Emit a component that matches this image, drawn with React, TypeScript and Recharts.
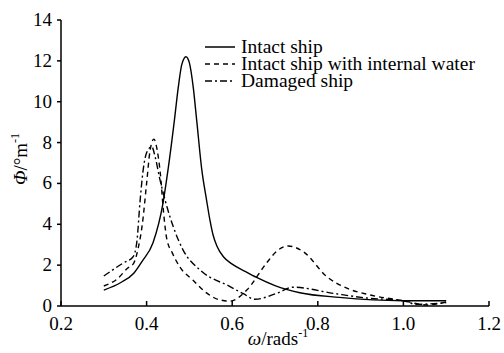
import { LineChart, Line, XAxis, YAxis } from "recharts"

// Intact ship
const intactW = [0.3, 0.34, 0.37, 0.39, 0.415, 0.438, 0.45, 0.465, 0.474, 0.482, 0.492, 0.5, 0.509, 0.517, 0.529, 0.54, 0.548, 0.555, 0.565, 0.58, 0.6, 0.63, 0.657, 0.7, 0.758, 0.85, 1.0, 1.1]
const intactPhi = [0.78, 1.15, 1.6, 2.2, 3.1, 5.0, 6.66, 9.1, 10.7, 11.8, 12.2, 11.9, 10.7, 9.1, 6.66, 5.2, 4.2, 3.5, 2.9, 2.4, 2.05, 1.7, 1.4, 1.0, 0.65, 0.42, 0.26, 0.26]

// Intact ship with internal water
const waterW = [0.3, 0.33, 0.356, 0.37, 0.38, 0.39, 0.4, 0.408, 0.417, 0.425, 0.432, 0.44, 0.447, 0.46, 0.478, 0.508, 0.54, 0.571, 0.595, 0.634, 0.68, 0.705, 0.731, 0.766, 0.821, 0.868, 0.922, 1.0, 1.054, 1.1]
const waterPhi = [0.98, 1.3, 1.86, 2.1, 2.8, 4.0, 6.0, 7.6, 8.17, 7.6, 6.5, 4.5, 3.3, 2.6, 1.9, 1.27, 0.64, 0.3, 0.24, 0.78, 2.1, 2.7, 2.94, 2.66, 1.44, 0.87, 0.54, 0.26, 0.05, 0.2]

// Damaged ship
const damagedW = [0.3, 0.345, 0.368, 0.377, 0.385, 0.392, 0.4, 0.412, 0.42, 0.43, 0.443, 0.462, 0.485, 0.525, 0.595, 0.626, 0.653, 0.704, 0.742, 0.836, 0.914, 1.0, 1.03, 1.1]
const damagedPhi = [1.47, 2.1, 2.4, 3.1, 5.2, 6.66, 7.5, 7.8, 7.3, 6.3, 5.2, 3.9, 2.75, 1.76, 0.95, 0.6, 0.33, 0.62, 0.92, 0.62, 0.39, 0.26, 0.08, 0.16]

const xTicks = [0.2, 0.4, 0.6, 0.8, 1.0, 1.2]
const yTicks = [0, 2, 4, 6, 8, 10, 12, 14]

const zip = (w: number[], p: number[]) => w.map((x, i) => ({ w: x, phi: p[i] }))

const series = [
  { name: "Intact ship", data: zip(intactW, intactPhi), dash: undefined as string | undefined },
  { name: "Intact ship with internal water", data: zip(waterW, waterPhi), dash: "5 4" },
  { name: "Damaged ship", data: zip(damagedW, damagedPhi), dash: "7 3 2 3" },
]

const font = "'Liberation Serif', 'Times New Roman', serif"
const textStyle = { fontFamily: font, fontSize: 19, fill: "#000" }

const XTick = (props: any) => {
  const { x, y, payload } = props
  return (
    <text x={x} y={y + 15} textAnchor="middle" style={textStyle}>
      {payload.value.toFixed(1)}
    </text>
  )
}

const YTick = (props: any) => {
  const { x, y, payload } = props
  return (
    <text x={x} y={y + 6} textAnchor="end" style={textStyle}>
      {payload.value}
    </text>
  )
}

export default function App() {
  return (
    <div style={{ position: "absolute", left: 0, top: 0, width: 504, height: 353, background: "#fff", fontFamily: font }}>
      <LineChart width={504} height={353} margin={{ top: 20, right: 15, bottom: 0, left: 0 }} style={{ fontFamily: font }}>
        <XAxis
          type="number"
          dataKey="w"
          domain={[0.2, 1.2]}
          ticks={xTicks}
          tickSize={-5}
          tickMargin={14}
          height={47}
          stroke="#000"
          strokeWidth={1.5}
          tick={<XTick />}
          label={{
            content: () => (
              <text x={278} y={345} textAnchor="middle" style={textStyle}>
                <tspan fontStyle="italic">ω</tspan>
                <tspan>/rads</tspan>
                <tspan fontSize={12} dy={-8}>-1</tspan>
              </text>
            ),
          }}
        />
        <YAxis
          type="number"
          domain={[0, 14]}
          ticks={yTicks}
          width={61}
          tickSize={4}
          tickMargin={5}
          stroke="#000"
          strokeWidth={1.5}
          tick={<YTick />}
          label={{
            content: () => (
              <text x={27} y={159} textAnchor="middle" transform="rotate(-90 27 159)" style={textStyle}>
                <tspan fontStyle="italic">Φ</tspan>
                <tspan>/°m</tspan>
                <tspan fontSize={12} dy={-8}>-1</tspan>
              </text>
            ),
          }}
        />
        {series.map((s) => (
          <Line
            key={s.name}
            data={s.data}
            dataKey="phi"
            name={s.name}
            type="monotone"
            stroke="#000"
            strokeWidth={1.4}
            strokeDasharray={s.dash}
            dot={false}
            isAnimationActive={false}
          />
        ))}
      </LineChart>
      <div style={{ position: "absolute", left: 203, top: 38, fontSize: 19.5, lineHeight: "17px", color: "#000" }}>
        {series.map((s) => (
          <div key={s.name} style={{ display: "flex", alignItems: "center", whiteSpace: "nowrap" }}>
            <svg width={38} height={17}>
              <line x1={2} x2={32} y1={9} y2={9} stroke="#000" strokeWidth={1.5} strokeDasharray={s.dash} />
            </svg>
            <span>{s.name}</span>
          </div>
        ))}
      </div>
    </div>
  )
}
